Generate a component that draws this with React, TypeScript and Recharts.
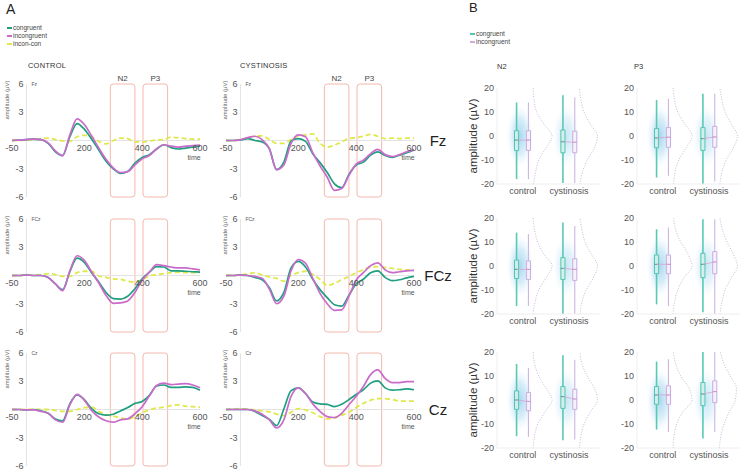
import React from "react";
import {
  LineChart,
  Line,
  XAxis,
  YAxis,
  ReferenceLine,
  ReferenceArea,
  ReferenceDot,
  ComposedChart,
} from "recharts";

// ---------- panel A: ERP waveforms (µV) ----------
const TIME = [-50, -25, 0, 25, 50, 75, 100, 125, 150, 175, 200, 225, 250, 275, 300, 325, 350, 375, 400, 425, 450, 475, 500, 525, 550, 575, 600];
const TIME_TICKS = [-50, 200, 400, 600];
const AMP_TICKS = [-6, -3, 3, 6];
const N2_WINDOW = [290, 375];
const P3_WINDOW = [403, 488];

const CTRL_FZ_CON = [0, 0.05, 0.1, 0.15, 0.1, -0.3, -1.2, -1.6, 0.4, 1.8, 1.2, 0.15, -1.0, -2.2, -3.0, -3.5, -3.3, -2.4, -1.8, -1.5, -0.9, -0.45, -0.75, -0.9, -0.8, -0.7, -0.6];
const CTRL_FZ_INC = [0, 0.05, 0.1, 0.15, 0.1, -0.25, -1.1, -1.6, 0.6, 2.3, 1.7, 0.5, -0.8, -2.0, -2.9, -3.4, -3.3, -2.6, -1.95, -1.6, -0.9, -0.45, -0.6, -0.7, -0.6, -0.55, -0.5];
const CTRL_FZ_DIFF = [0, 0, 0.05, 0.1, 0.2, 0.25, 0.1, -0.05, -0.1, 0.4, 0.55, 0.4, -0.1, -0.35, 0, 0.25, 0.2, -0.15, -0.15, -0.05, 0.05, 0.1, 0.35, 0.3, 0.2, 0.15, 0.15];

const CYST_FZ_CON = [0, 0, 0.05, 0.2, 0, -0.15, -0.9, -3.1, -2.3, -0.05, 0.2, -0.1, -1.4, -2.35, -3.4, -4.6, -5.0, -3.6, -2.6, -2.3, -1.55, -1.2, -1.6, -1.8, -1.55, -1.3, -1.0];
const CYST_FZ_INC = [0, 0, 0.1, 0.3, 0.45, 0.1, -0.9, -3.1, -2.6, -0.3, 0.6, 0.4, -1.3, -2.7, -3.9, -5.3, -5.1, -3.7, -2.5, -2.1, -1.4, -0.95, -1.5, -1.7, -1.5, -1.2, -1.0];
const CYST_FZ_DIFF = [0, 0, 0.1, 0.3, 0.45, 0.5, 0.1, -0.3, -0.3, 0.1, 0.5, 0.6, 0.7, -0.3, -0.7, -0.5, -0.15, 0.2, 0.3, 0.45, 0.65, 0.45, 0.2, 0.25, 0.2, 0.25, 0.25];

const CTRL_FCZ_CON = [0, 0, 0.05, 0, 0, -0.2, -0.9, -1.5, 0.4, 1.85, 1.4, 0.3, -0.7, -1.8, -2.45, -2.5, -2.2, -1.4, -0.35, 0.35, 0.95, 0.9, 0.5, 0.5, 0.45, 0.4, 0.35];
const CTRL_FCZ_INC = [0, 0, 0.05, 0, 0, -0.2, -0.9, -1.6, 0.5, 2.1, 1.6, 0.4, -0.8, -2.1, -2.95, -2.9, -2.7, -1.8, -0.5, 0.35, 1.15, 1.05, 0.9, 0.8, 0.8, 0.7, 0.6];
const CTRL_FCZ_DIFF = [0, 0, 0.05, 0.05, 0.1, 0.2, 0.1, -0.1, -0.1, 0.3, 0.45, 0.45, -0.05, -0.2, -0.35, -0.4, -0.6, -0.7, -0.45, -0.05, 0.1, 0.2, 0.3, 0.35, 0.3, 0.3, 0.3];

const CYST_FCZ_CON = [0, 0, 0.05, 0, -0.2, -0.45, -1.3, -2.7, -1.8, 0.8, 1.5, 0.9, -0.4, -1.5, -2.35, -3.1, -3.25, -2.1, -0.9, -0.4, 0.3, 0.5, -0.2, -0.55, -0.45, -0.25, -0.1];
const CYST_FCZ_INC = [0, 0, 0.05, 0, -0.1, -0.3, -1.45, -3.0, -2.2, 0.5, 1.7, 1.3, -0.3, -1.9, -3.0, -3.7, -3.65, -2.2, -0.5, 0.3, 1.05, 1.35, 0.6, 0.3, 0.4, 0.5, 0.55];
const CYST_FCZ_DIFF = [0, 0, 0.05, 0.15, 0.3, 0.05, -0.15, -0.3, -0.6, 0, 0.3, 0.45, 0.1, -0.4, -1.05, -0.85, -0.45, -0.1, 0.3, 0.6, 0.9, 0.95, 0.85, 0.75, 0.65, 0.6, 0.55];

const CTRL_CZ_CON = [0, 0, -0.05, 0, -0.15, -0.4, -1.0, -1.2, 0.6, 1.55, 1.05, 0.1, -0.45, -0.6, -0.5, -0.15, 0.2, 0.65, 0.85, 1.5, 2.5, 2.6, 2.35, 2.35, 2.4, 2.35, 2.05];
const CTRL_CZ_INC = [0, 0, -0.05, -0.05, -0.2, -0.4, -1.1, -1.35, 0.5, 1.6, 1.0, -0.1, -0.8, -1.2, -1.35, -1.1, -1.0, -0.45, 0.3, 1.45, 2.55, 2.8, 2.65, 2.7, 2.75, 2.6, 2.3];
const CTRL_CZ_DIFF = [0, 0, 0, 0, 0, 0, -0.1, -0.2, -0.2, 0, 0.2, 0.25, -0.2, -0.55, -0.7, -0.9, -1.0, -0.75, -0.35, -0.05, 0.15, 0.25, 0.4, 0.5, 0.35, 0.3, 0.25];

const CYST_CZ_CON = [0, 0, 0, 0, -0.2, -0.65, -1.05, -1.7, 0.05, 2.0, 2.3, 1.7, 0.8, 0.6, 0.55, 0.3, 0.55, 1.05, 1.6, 2.1, 2.8, 3.05, 2.3, 2.05, 2.1, 2.2, 2.1];
const CYST_CZ_INC = [0, 0, 0, 0, -0.15, -0.5, -1.1, -1.95, -1.1, 1.4, 2.3, 1.7, 0.6, -0.2, -0.75, -0.85, -0.4, 0.5, 1.4, 2.45, 3.7, 4.2, 3.3, 2.85, 2.85, 2.95, 2.95];
const CYST_CZ_DIFF = [0, 0.05, 0.1, 0.05, -0.05, -0.15, -0.25, -0.5, -0.65, -0.3, 0.1, -0.05, -0.35, -0.75, -1.0, -0.9, -0.6, -0.3, 0.2, 0.65, 1.0, 1.15, 1.15, 1.05, 0.9, 0.9, 0.9];

// ---------- panel B: box stats [low whisker, q1, median, q3, high whisker] ----------
const GROUPS = ["control", "cystinosis"];
const FZ_N2 = [
  [[-18, -6.1, -1.7, 2.2, 14], [-18, -6, -1.7, 2.2, 14]],
  [[-19.6, -7, -2.4, 2.5, 17], [-19.6, -7, -2.6, 2, 16]],
];
const FZ_P3 = [
  [[-17.3, -4.9, -0.8, 3.1, 15], [-16.6, -4.7, -0.5, 3.5, 15.5]],
  [[-20, -6, -1.1, 3.5, 17.6], [-19, -4.7, -0.4, 4, 17.6]],
];
const FCZ_N2 = [
  [[-16.7, -5.2, -1.4, 2.5, 13.9], [-16.7, -5.6, -1.4, 2.1, 13.3]],
  [[-20, -5.6, -1, 3.5, 18.1], [-20, -6, -1.4, 3, 16.7]],
];
const FCZ_P3 = [
  [[-16, -3.2, 0.7, 4.6, 15.3], [-16.7, -3.2, 0.7, 4.6, 16]],
  [[-19.3, -4.9, 0.7, 5.3, 19.5], [-20, -3.2, 1.7, 6, 19.5]],
];
const CZ_N2 = [
  [[-15.1, -3.9, 0, 3.8, 15], [-15.4, -4.5, -0.6, 3.1, 13.3]],
  [[-16.8, -3.5, 1.4, 5.6, 18.6], [-16.5, -3.9, 0.4, 4.5, 16.8]],
];
const CZ_P3 = [
  [[-12.3, -1.8, 2.1, 5.6, 16], [-13.3, -1.8, 2.1, 5.9, 17]],
  [[-16, -2.4, 2.5, 7.3, 20], [-13.3, -1.1, 3.5, 8, 20]],
];

// half-violin widths at each amplitude level (control, cystinosis)
const CLOUD_LEVELS = [-20, -15, -10, -5, 0, 5, 10, 15, 20];
const FZ_N2_CLOUD = [[0.1, 0.3, 0.6, 1.3, 1.9, 1.1, 0.4, 0.15, 0.05], [0.1, 0.35, 0.8, 1.5, 1.8, 1.1, 0.5, 0.2, 0.05]];
const FZ_P3_CLOUD = [[0.1, 0.25, 0.6, 1.3, 1.9, 1.2, 0.5, 0.2, 0.05], [0.1, 0.3, 0.7, 1.4, 1.8, 1.2, 0.6, 0.3, 0.1]];
const FCZ_N2_CLOUD = [[0.05, 0.25, 0.6, 1.3, 1.9, 1.1, 0.5, 0.2, 0.05], [0.1, 0.3, 0.7, 1.4, 1.8, 1.2, 0.6, 0.3, 0.1]];
const FCZ_P3_CLOUD = [[0.05, 0.2, 0.5, 1.1, 1.9, 1.5, 0.8, 0.3, 0.1], [0.1, 0.3, 0.6, 1.2, 1.8, 1.4, 0.8, 0.35, 0.1]];
const CZ_N2_CLOUD = [[0.05, 0.2, 0.5, 1.2, 1.9, 1.3, 0.6, 0.2, 0.05], [0.05, 0.2, 0.5, 1.1, 1.8, 1.5, 0.8, 0.3, 0.1]];
const CZ_P3_CLOUD = [[0.05, 0.15, 0.4, 1.0, 1.9, 1.6, 0.8, 0.3, 0.1], [0.05, 0.2, 0.5, 1.0, 1.6, 1.7, 1.1, 0.5, 0.15]];

const TEAL = "#1f9e80";
const PURPLE = "#c96bcb";
const YELLOW = "#e0e84a";
const WIN = "#f4b8ad";
const FONT = '"Liberation Sans", Arial, sans-serif';

const ERP_PANELS = [
  { row: 0, col: 0, ch: "Fz", con: CTRL_FZ_CON, inc: CTRL_FZ_INC, diff: CTRL_FZ_DIFF },
  { row: 0, col: 1, ch: "Fz", con: CYST_FZ_CON, inc: CYST_FZ_INC, diff: CYST_FZ_DIFF },
  { row: 1, col: 0, ch: "FCz", con: CTRL_FCZ_CON, inc: CTRL_FCZ_INC, diff: CTRL_FCZ_DIFF },
  { row: 1, col: 1, ch: "FCz", con: CYST_FCZ_CON, inc: CYST_FCZ_INC, diff: CYST_FCZ_DIFF },
  { row: 2, col: 0, ch: "Cz", con: CTRL_CZ_CON, inc: CTRL_CZ_INC, diff: CTRL_CZ_DIFF },
  { row: 2, col: 1, ch: "Cz", con: CYST_CZ_CON, inc: CYST_CZ_INC, diff: CYST_CZ_DIFF },
];

const RAIN_PANELS = [
  { row: 0, col: 0, stats: FZ_N2, cloud: FZ_N2_CLOUD },
  { row: 0, col: 1, stats: FZ_P3, cloud: FZ_P3_CLOUD },
  { row: 1, col: 0, stats: FCZ_N2, cloud: FCZ_N2_CLOUD },
  { row: 1, col: 1, stats: FCZ_P3, cloud: FCZ_P3_CLOUD },
  { row: 2, col: 0, stats: CZ_N2, cloud: CZ_N2_CLOUD },
  { row: 2, col: 1, stats: CZ_P3, cloud: CZ_P3_CLOUD },
];

// layout
const ERP_LEFT = [12, 226];
const ERP_AMP_LABEL_X = [7, 225];
const ERP_TOP = [84, 218.5, 352.5];
const ERP_W = 188;
const ERP_H = 113;
const EM = { top: 14, right: 16, bottom: 26, left: 16 };

const RAIN_LEFT = [497, 637];
const RAIN_TOP = [88, 218, 352];
const RAIN_W = 103;
const RAIN_H = 96;
const GROUP_X = [2.5, 7.0];
const BOX_HALF = 0.2;

const roundedBox = (p: any) => (
  <rect x={p.x} y={p.y} width={p.width} height={p.height} rx={3} fill="none" stroke={WIN} strokeWidth={1} />
);

function ErpChart({ p }: { p: any }) {
  const rows = TIME.map((t, i) => ({ t, con: p.con[i], inc: p.inc[i], diff: p.diff[i] }));
  const lbl = { fontSize: 9, fill: "#555" };
  return (
    <div style={{ position: "absolute", left: ERP_LEFT[p.col] - EM.left, top: ERP_TOP[p.row] - EM.top }}>
      <LineChart width={ERP_W + EM.left + EM.right} height={ERP_H + EM.top + EM.bottom} data={rows} margin={EM}>
        <XAxis type="number" dataKey="t" domain={[-50, 600]} hide />
        <YAxis type="number" domain={[-6, 6]} hide />
        <ReferenceLine y={0} stroke="#e3e3e3" />
        <ReferenceLine x={0} stroke="#e3e3e3" />
        <ReferenceArea x1={N2_WINDOW[0]} x2={N2_WINDOW[1]} y1={-6} y2={6} shape={roundedBox}
          label={p.row === 0 ? { value: "N2", position: "top", offset: 3, fontSize: 8, fill: "#444" } : undefined} />
        <ReferenceArea x1={P3_WINDOW[0]} x2={P3_WINDOW[1]} y1={-6} y2={6} shape={roundedBox}
          label={p.row === 0 ? { value: "P3", position: "top", offset: 3, fontSize: 8, fill: "#444" } : undefined} />
        {TIME_TICKS.map((t) => (
          <ReferenceDot key={"x" + t} x={t} y={0} r={0} fill="none" stroke="none"
            label={{ value: String(t), position: "bottom", offset: 4, ...lbl }} />
        ))}
        {AMP_TICKS.map((v) => (
          <ReferenceDot key={"y" + v} x={0} y={v} r={0} fill="none" stroke="none"
            label={{ value: String(v), position: "left", offset: 3, ...lbl }} />
        ))}
        <ReferenceDot x={600} y={0} r={0} fill="none" stroke="none"
          label={{ value: "time", position: "bottom", offset: 15, dx: -6, fontSize: 7, fill: "#555" }} />
        <ReferenceDot x={0} y={6} r={0} fill="none" stroke="none"
          label={{ value: p.ch, position: "right", offset: 5, fontSize: 5, fill: "#555" }} />
        <Line dataKey="diff" type="monotone" stroke={YELLOW} strokeWidth={1.8} strokeDasharray="5 3" dot={false} isAnimationActive={false} />
        <Line dataKey="con" type="monotone" stroke={TEAL} strokeWidth={1.7} dot={false} isAnimationActive={false} />
        <Line dataKey="inc" type="monotone" stroke={PURPLE} strokeWidth={1.7} dot={false} isAnimationActive={false} />
      </LineChart>
    </div>
  );
}

const COND_STYLE = [
  { stroke: "#4fc6af", fill: "#d3efe9", whisker: "#58c9b3", med: "#3a9f8c" },
  { stroke: "#c8ade0", fill: "#f6f0fb", whisker: "#cdb6e2", med: "#c28fd4" },
];

function RainChart({ p, id }: { p: any; id: string }) {
  const yw = 40;
  const m = { top: 8, right: 6, bottom: 0, left: 0 };
  return (
    <div style={{ position: "absolute", left: RAIN_LEFT[p.col] - yw, top: RAIN_TOP[p.row] - m.top }}>
      <ComposedChart width={yw + RAIN_W + m.right} height={m.top + RAIN_H + 20} margin={m}>
        <defs>
          <radialGradient id={id}>
            <stop offset="0%" stopColor="#a9d7f0" stopOpacity={1} />
            <stop offset="55%" stopColor="#c1e3f5" stopOpacity={0.65} />
            <stop offset="100%" stopColor="#e3f2fb" stopOpacity={0} />
          </radialGradient>
        </defs>
        <XAxis type="number" dataKey="x" domain={[0, 10]} ticks={GROUP_X}
          tickFormatter={(v: number) => GROUPS[GROUP_X.indexOf(v)]}
          axisLine={{ stroke: "#eeeeee" }} tickLine={false} tickSize={0} tickMargin={4}
          tick={{ fontSize: 9, fill: "#555" }} height={20} interval={0} />
        <YAxis type="number" domain={[-20, 20]} ticks={[-20, -10, 0, 10, 20]} width={yw}
          axisLine={{ stroke: "#eeeeee" }} tickLine={false} tickSize={0} tickMargin={3}
          tick={{ fontSize: 9, fill: "#555" }} interval={0} />
        {GROUP_X.map((gx, g) => (
          <ReferenceArea key={"rain" + g} x1={gx - 1.55} x2={gx + 1.0} y1={-13} y2={13}
            fill={`url(#${id})`} fillOpacity={g === 0 ? 1 : 0.65} stroke="none" />
        ))}
        {GROUP_X.map((gx, g) =>
          p.stats[g].map((s: number[], c: number) => {
            const px = gx + (c === 0 ? -0.6 : 0.55);
            const st = COND_STYLE[c];
            return (
              <React.Fragment key={`b${g}${c}`}>
                <ReferenceLine segment={[{ x: px, y: s[0] }, { x: px, y: s[1] }]} stroke={st.whisker} strokeWidth={c === 0 ? 1.6 : 1.1} />
                <ReferenceLine segment={[{ x: px, y: s[3] }, { x: px, y: s[4] }]} stroke={st.whisker} strokeWidth={c === 0 ? 1.6 : 1.1} />
                <ReferenceArea x1={px - BOX_HALF} x2={px + BOX_HALF} y1={s[1]} y2={s[3]} fill={st.fill} fillOpacity={0.8} stroke={st.stroke} strokeWidth={1} />
                <ReferenceLine segment={[{ x: px - BOX_HALF, y: s[2] }, { x: px + BOX_HALF, y: s[2] }]} stroke={st.med} strokeWidth={1} />
              </React.Fragment>
            );
          })
        )}
        {GROUP_X.map((gx, g) => (
          <ReferenceLine key={"mc" + g}
            segment={[{ x: gx - 0.6, y: p.stats[g][0][2] }, { x: gx + 0.55, y: p.stats[g][1][2] }]}
            stroke="#d8a2d2" strokeWidth={0.8} />
        ))}
        {GROUP_X.map((gx, g) => (
          <Line key={"cl" + g} data={CLOUD_LEVELS.map((y, i) => ({ x: gx + 0.95 + p.cloud[g][i], y }))}
            dataKey="y" type="monotoneY" stroke="#bfb0d2" strokeWidth={0.9} strokeDasharray="1 1.6"
            dot={false} isAnimationActive={false} />
        ))}
      </ComposedChart>
    </div>
  );
}

const abs = (left: number, top: number, extra: any = {}) => ({ position: "absolute" as const, left, top, whiteSpace: "nowrap" as const, ...extra });

function LegendItem({ x, y, color, label, dashed }: any) {
  return (
    <div style={abs(x, y, { display: "flex", alignItems: "center", fontSize: 6.5, color: "#444", lineHeight: "8px" })}>
      <span style={{ display: "inline-block", width: 5, height: 0, borderTop: `2px ${dashed ? "dashed" : "solid"} ${color}`, marginRight: 1 }} />
      {label}
    </div>
  );
}

export default function App() {
  return (
    <div style={{ position: "absolute", left: 0, top: 0, width: 740, height: 475, background: "#fff", fontFamily: FONT, color: "#333", overflow: "hidden" }}>
      <div style={abs(6, 1, { fontSize: 14, color: "#222" })}>A</div>
      <div style={abs(469, 0, { fontSize: 13, color: "#222" })}>B</div>

      <LegendItem x={7} y={24} color={TEAL} label="congruent" />
      <LegendItem x={7} y={32} color={PURPLE} label="incongruent" />
      <LegendItem x={7} y={40} color={YELLOW} label="incon-con" dashed />
      <LegendItem x={470} y={30} color="#52c7b0" label="congruent" />
      <LegendItem x={470} y={38} color="#d7a8e0" label="incongruent" />

      <div style={abs(28, 61, { fontSize: 7.5, letterSpacing: 0.2 })}>CONTROL</div>
      <div style={abs(240, 61, { fontSize: 7.5, letterSpacing: 0.2 })}>CYSTINOSIS</div>
      <div style={abs(497, 62, { fontSize: 7.5 })}>N2</div>
      <div style={abs(634, 62, { fontSize: 7.5 })}>P3</div>

      {ERP_TOP.map((t, r) =>
        ERP_AMP_LABEL_X.map((x, c) => (
          <div key={`al${r}${c}`} style={abs(x, t + 16, { fontSize: 6, color: "#666", lineHeight: "7px", transform: "translate(-50%,-50%) rotate(-90deg)", transformOrigin: "center" })}>
            amplitude (µV)
          </div>
        ))
      )}

      {ERP_PANELS.map((p, i) => (
        <ErpChart key={"erp" + i} p={p} />
      ))}

      {["Fz", "FCz", "Cz"].map((ch, r) => (
        <div key={"ch" + ch} style={abs(438, ERP_TOP[r] + 56, { fontSize: 15, color: "#222", transform: "translate(-50%,-50%)" })}>
          {ch}
        </div>
      ))}

      {RAIN_TOP.map((t, r) => (
        <div key={"ba" + r} style={abs(473, t + RAIN_H / 2, { fontSize: 11.5, color: "#333", transform: "translate(-50%,-50%) rotate(-90deg)" })}>
          amplitude (µV)
        </div>
      ))}

      {RAIN_PANELS.map((p, i) => (
        <RainChart key={"rain" + i} p={p} id={"rainGrad" + i} />
      ))}
    </div>
  );
}
